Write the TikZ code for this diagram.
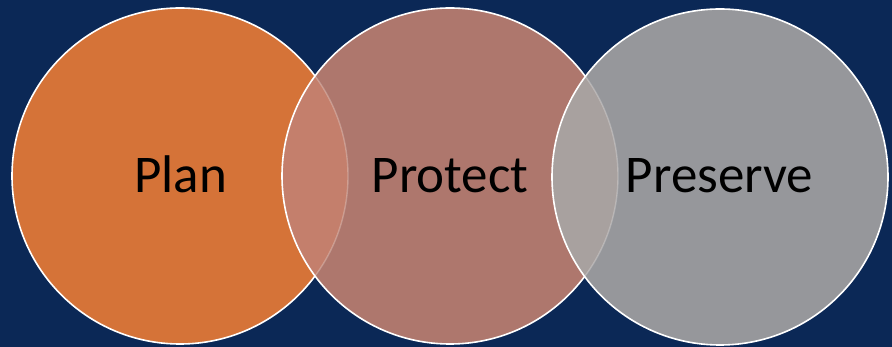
\documentclass[tikz,border=0pt]{standalone}
\usepackage{fontspec}
\setmainfont{Carlito}
\definecolor{bgnavy}{RGB}{11,40,86}
\definecolor{planc}{RGB}{213,115,56}
\definecolor{protc}{RGB}{174,119,109}
\definecolor{presc}{RGB}{150,151,155}
\definecolor{ovA}{RGB}{196,127,108}
\definecolor{ovB}{RGB}{168,161,159}
\tikzset{
  ring/.style={draw=white, line width=1.6pt},
  faint/.style={draw=white, draw opacity=0.25, line width=1.4pt},
  lbl/.style={anchor=base, font=\fontsize{53}{60}\selectfont, text=black, inner sep=0pt}
}
\begin{document}
\begin{tikzpicture}[x=1pt,y=-1pt]
\fill[bgnavy] (0,0) rectangle (892,347);
\useasboundingbox (0,0) rectangle (892,347);
\coordinate (c1) at (180,176);
\coordinate (c2) at (450,176);
\coordinate (c3) at (720,177);
% Plan
\fill[planc] (c1) circle (168pt);
\draw[ring] (c1) circle (168pt);
% Protect
\fill[protc] (c2) circle (168pt);
\begin{scope}
  \clip (c1) circle (168pt);
  \fill[ovA] (c2) circle (168pt);
\end{scope}
\begin{scope}
  \clip (c2) circle (168pt);
  \draw[faint] (c1) circle (168pt);
\end{scope}
\draw[ring] (c2) circle (168pt);
% Preserve
\fill[presc] (c3) circle (168pt);
\begin{scope}
  \clip (c2) circle (168pt);
  \fill[ovB] (c3) circle (168pt);
\end{scope}
\begin{scope}
  \clip (c3) circle (168pt);
  \draw[faint] (c2) circle (168pt);
\end{scope}
\draw[ring] (c3) circle (168pt);
% Labels
\node[lbl] (plan) at (180.5,193) {Plan};
\node[lbl] (protect) at (450,193) {Protect};
\node[lbl] (preserve) at (719.5,193) {Preserve};
\end{tikzpicture}
\end{document}
